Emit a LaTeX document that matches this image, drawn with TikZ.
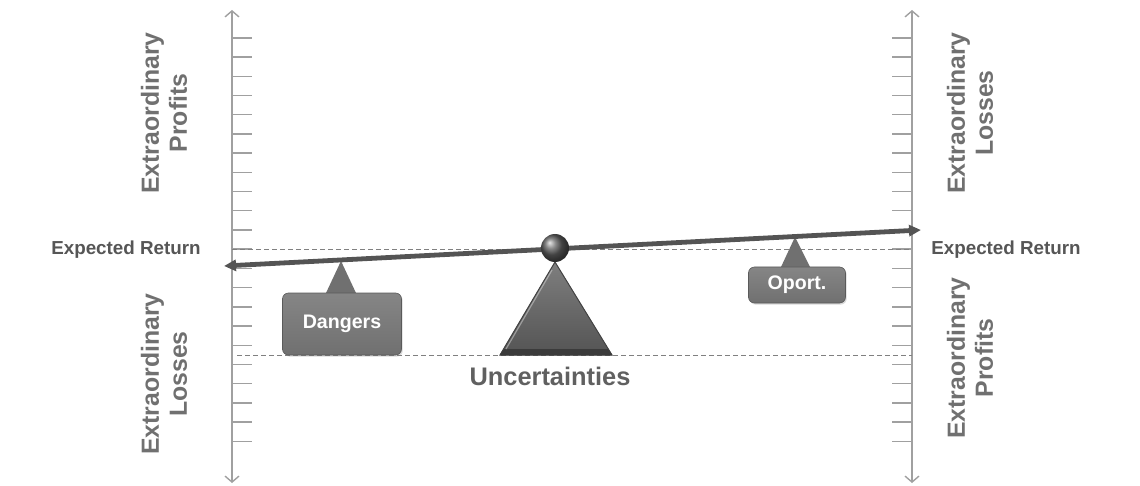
\documentclass[tikz,border=0pt]{standalone}
\usepackage{fontspec}
\setmainfont{Liberation Sans}
\usetikzlibrary{arrows.meta}
\usetikzlibrary{shadows}
\usetikzlibrary{calc}
\usetikzlibrary{positioning}
\definecolor{txtgray}{HTML}{606060}
\definecolor{axisgray}{HTML}{A0A0A0}
\definecolor{boxgray}{HTML}{707070}
\definecolor{beamgray}{HTML}{545454}
\tikzset{every text node part/.style={align=center}}
\tikzstyle{axis} = [draw=axisgray, line width=0.7pt, arrows={Straight Barb[length=3pt,width=7pt]-Straight Barb[length=3pt,width=7pt]}]
\tikzstyle{tick} = [draw=axisgray, line width=0.7pt]
\tikzstyle{level} = [draw=gray, line width=0.45pt, dash pattern=on 2.5pt off 1.5pt]
\tikzstyle{beam} = [draw=beamgray, line width=2.4pt, arrows={Triangle[length=6pt,width=5.5pt]-Triangle[length=6pt,width=5.5pt]}]
\tikzstyle{weight} = [draw=boxgray!80!black, line width=0.3pt, top color=boxgray!85, bottom color=boxgray, rounded corners=3pt, text=white, font={\bfseries\fontsize{9.8}{11}\selectfont}, drop shadow={opacity=0.3, shadow xshift=0.6pt, shadow yshift=-0.8pt}]
\tikzstyle{side} = [text=txtgray!90, rotate=90, font={\bfseries\fontsize{12.4}{14}\selectfont}]
\tikzstyle{ret} = [text=txtgray!90!black, font={\bfseries\fontsize{9.4}{11}\selectfont}]

\begin{document}
\begin{tikzpicture}[x=0.5pt, y=-0.5pt]
  \useasboundingbox (0,0) rectangle (1140,486);
  % axes
  \coordinate (ltop) at (232,10);
  \coordinate (lbot) at (232,483);
  \coordinate (rtop) at (912,10);
  \coordinate (rbot) at (912,483);
  \draw[axis] (lbot) -- (ltop);
  \draw[axis] (rbot) -- (rtop);
  \foreach \i in {0,...,21} {
    \draw[tick] ($(ltop)+(0,28+19.2*\i)$) -- ++(20,0);
    \draw[tick] ($(rtop)+(0,28+19.2*\i)$) -- ++(-20,0);
  }
  % levels
  \draw[level] (232,249) -- (912,249);
  \draw[level] (237,355) -- (912,355);
  \node[ret] (retl) at (126,250) {Expected Return};
  \node[ret] (retr) at (1006,250) {Expected Return};
  \node[side] (lprofit) at (164,113) {Extraordinary\\Profits};
  \node[side] (llosses) at (164,374) {Extraordinary\\Losses};
  \node[side] (rlosses) at (970,113) {Extraordinary\\Losses};
  \node[side] (rprofit) at (970,358) {Extraordinary\\Profits};
  % fulcrum
  \fill[top color=boxgray!90, bottom color=beamgray, draw=beamgray!80!black, line width=0.5pt] (555,262) -- (612,355) -- (500,355) -- cycle;
  \fill[beamgray!70!black] (504,349) -- (608,349) -- (612,355) -- (500,355) -- cycle;
  \draw[white!70!gray, line width=0.6pt, opacity=0.5] (552,270) -- (506,349);
  \node[text=txtgray, font={\bfseries\fontsize{12.7}{15}\selectfont}] (unc) at (550,376) {Uncertainties};
  % weights
  \fill[boxgray] (341,261) -- (356,293) -- (326,293) -- cycle;
  \fill[boxgray] (795,237) -- (810,267) -- (781,267) -- cycle;
  \node[weight, minimum width=59.5pt, minimum height=31pt] (dang) at (342,324) {Dangers};
  \node[weight, minimum width=48.5pt, minimum height=18pt] (oport) at (797,285) {Oport.};
  % beam
  \coordinate (bl) at (224,266);
  \coordinate (br) at (921,230);
  \draw[beam] (bl) -- (br);
  \node[circle, minimum size=14pt, inner sep=0pt, ball color=gray!75!black, shading=ball] (pivot) at (555,248) {};
\end{tikzpicture}
\end{document}
